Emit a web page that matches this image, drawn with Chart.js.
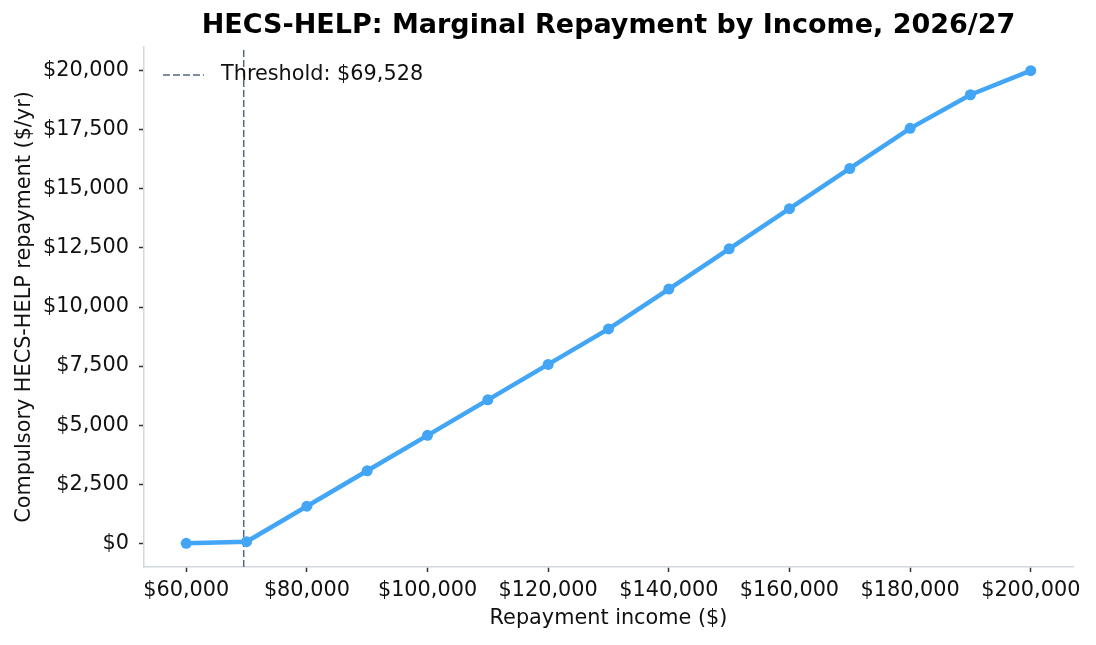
<!DOCTYPE html>
<html>
<head>
<meta charset="utf-8">
<script src="https://cdn.jsdelivr.net/npm/chart.js@4"></script>
<style>
  body { margin: 0; background: #fff; }
  canvas { display: block; }
</style>
</head>
<body>
<canvas id="chart" width="1096" height="645"></canvas>
<script>
const incomes = [60000, 70000, 80000, 90000, 100000, 110000, 120000, 130000, 140000, 150000, 160000, 170000, 180000, 190000, 200000];
const repayments = [0, 71, 1571, 3071, 4571, 6071, 7571, 9071, 10760, 12460, 14160, 15860, 17560, 18980, 20000];
const threshold = 69528;
const xTicks = [60000, 80000, 100000, 120000, 140000, 160000, 180000, 200000];
const yTicks = [0, 2500, 5000, 7500, 10000, 12500, 15000, 17500, 20000];

const money = v => '$' + Number(v).toLocaleString('en-US');
const FONT = 'DejaVu Sans';
const FS = 20.8;

Chart.defaults.font.family = FONT;
Chart.defaults.color = '#111';

const axisCommon = {
  border: {display: true, color: '#d3d8de', width: 1.5},
  grid: {drawOnChartArea: false, drawTicks: true, tickLength: 5, tickColor: '#333', tickWidth: 1.5},
};

// legend drawn inside the plot, top-left, like matplotlib's "upper left"
const insideLegend = {
  id: 'insideLegend',
  afterDatasetsDraw(chart) {
    const {ctx, chartArea} = chart;
    const ds = chart.data.datasets[1];
    const x0 = chartArea.left + 19, y0 = chartArea.top + 28;
    ctx.save();
    ctx.strokeStyle = ds.borderColor;
    ctx.lineWidth = ds.borderWidth;
    ctx.setLineDash(ds.borderDash);
    ctx.beginPath();
    ctx.moveTo(x0, y0);
    ctx.lineTo(x0 + 41, y0);
    ctx.stroke();
    ctx.setLineDash([]);
    ctx.fillStyle = '#111';
    ctx.font = FS + 'px ' + FONT;
    ctx.textBaseline = 'middle';
    ctx.fillText(ds.label, x0 + 58, y0);
    ctx.restore();
  }
};

new Chart(document.getElementById('chart').getContext('2d'), {
  type: 'line',
  plugins: [insideLegend],
  data: {
    datasets: [
      {
        label: 'Repayment',
        data: incomes.map((x, i) => ({x: x, y: repayments[i]})),
        borderColor: '#42a5f5',
        backgroundColor: '#42a5f5',
        borderWidth: 4.5,
        pointRadius: 5.5,
        pointBorderWidth: 0,
        pointHoverRadius: 5.5,
        tension: 0
      },
      {
        label: 'Threshold: ' + money(threshold),
        data: [{x: threshold, y: -1000}, {x: threshold, y: 21000}],
        borderColor: '#56687f',
        backgroundColor: '#56687f',
        borderWidth: 1.5,
        borderDash: [7, 3],
        pointRadius: 0
      }
    ]
  },
  options: {
    responsive: false,
    animation: false,
    devicePixelRatio: 1,
    layout: {padding: {left: 0, right: 23, top: 0, bottom: 0}},
    plugins: {
      title: {
        display: true,
        fullSize: false,
        text: 'HECS-HELP: Marginal Repayment by Income, 2026/27',
        font: {size: 27, weight: 'bold'},
        color: '#000',
        padding: {top: 10, bottom: 4.6}
      },
      legend: {display: false},
      tooltip: {enabled: false}
    },
    scales: {
      x: {
        type: 'linear',
        min: 53000,
        max: 207000,
        ...axisCommon,
        afterBuildTicks: s => { s.ticks = xTicks.map(v => ({value: v})); },
        afterFit: s => { s.height = 78; },
        ticks: {callback: v => money(v), font: {size: FS}, padding: 6, maxRotation: 0, autoSkip: false},
        title: {display: true, text: 'Repayment income ($)', font: {size: FS}, padding: {top: 0, bottom: 14}}
      },
      y: {
        type: 'linear',
        min: -1000,
        max: 21000,
        ...axisCommon,
        afterBuildTicks: s => { s.ticks = yTicks.map(v => ({value: v})); },
        afterFit: s => { s.width = 144; },
        ticks: {callback: v => money(v), font: {size: FS}, padding: 10, autoSkip: false},
        title: {display: true, text: 'Compulsory HECS-HELP repayment ($/yr)', font: {size: FS}, padding: {top: 12, bottom: 0}}
      }
    }
  }
});
</script>
</body>
</html>
